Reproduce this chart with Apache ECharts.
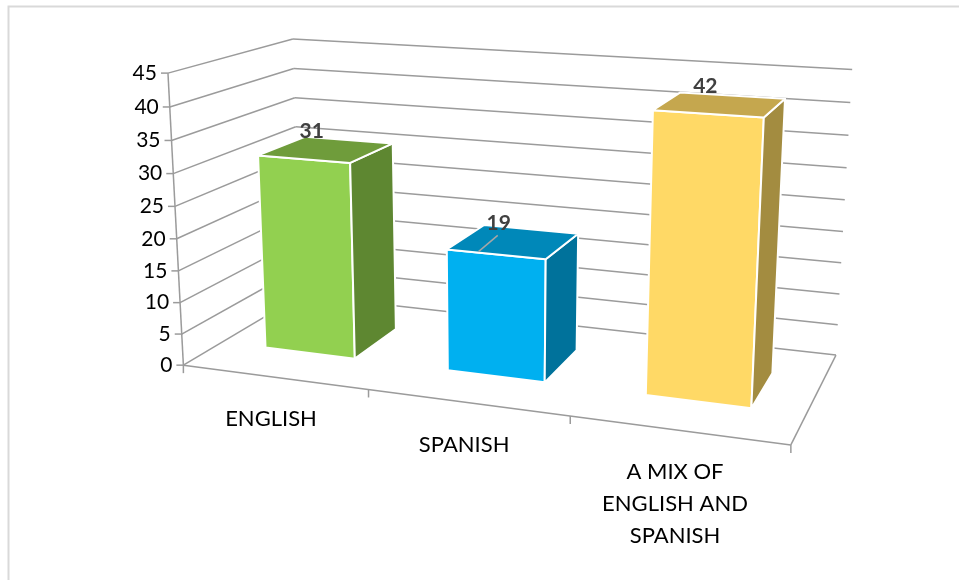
<!DOCTYPE html>
<html>
<head>
<meta charset="utf-8">
<script src="https://cdn.jsdelivr.net/npm/echarts@6.0.0/dist/echarts.min.js"></script>
<style>
  html, body { margin: 0; padding: 0; background: #ffffff; }
  #chart { width: 959px; height: 580px; }
</style>
</head>
<body>
<div id="chart"></div>
<script>
// ---- data ----
const categories = ['ENGLISH', 'SPANISH', 'A MIX OF\nENGLISH AND\nSPANISH'];
const values = [31, 19, 42];
const yTicks = [0, 5, 10, 15, 20, 25, 30, 35, 40, 45];

// ---- style ----
const FONT = 'Lato, "Open Sans", sans-serif';
const GRID_COLOR = '#9b9b9b';
const faceColors = [
  { front: '#92D050', side: '#5E8731', top: '#6F9C3B' },
  { front: '#00B0F0', side: '#00729B', top: '#0088B9' },
  { front: '#FFD966', side: '#A38C40', top: '#C5A74E' }
];
const BAR = { widthRatio: 0.5, zFront: 0.3, zBack: 0.7 };
const leaderLine = [false, true, false];

// Perspective box of the plot: unit cube (x = category span, y = value span,
// z = depth, 0 at the front) and where its corners sit on the canvas.
const boxAnchors = [
  [[0, 0, 0], [183, 364]],
  [[0, 1, 0], [168, 73]],
  [[0, 1, 1], [293, 39]],
  [[1, 1, 1], [852, 69]],
  [[1, 0, 1], [836, 355]],
  [[1, 0, 0], [791, 444]],
  [[1 / 3, 0, 0], [369, 390]],
  [[2 / 3, 0, 0], [570, 417]],
  [[0, 25 / 45, 0], [175, 207]],
  [[1, 20 / 45, 1], [843, 232]]
];

// Least-squares 3x4 projective camera (p34 = 1) from the anchors.
function buildProjection(anchors) {
  const N = 11, CX = 480, CY = 290, S = 300;
  const M = Array.from({ length: N }, () => new Array(N + 1).fill(0));
  const addRow = (row, rhs) => {
    for (let a = 0; a < N; a++) {
      for (let b = 0; b < N; b++) M[a][b] += row[a] * row[b];
      M[a][N] += row[a] * rhs;
    }
  };
  anchors.forEach(([[X, Y, Z], [px, py]]) => {
    const u = (px - CX) / S, v = (py - CY) / S;
    addRow([X, Y, Z, 1, 0, 0, 0, 0, -u * X, -u * Y, -u * Z], u);
    addRow([0, 0, 0, 0, X, Y, Z, 1, -v * X, -v * Y, -v * Z], v);
  });
  for (let c = 0; c < N; c++) {
    let p = c;
    for (let r = c + 1; r < N; r++) if (Math.abs(M[r][c]) > Math.abs(M[p][c])) p = r;
    const t = M[c]; M[c] = M[p]; M[p] = t;
    for (let r = 0; r < N; r++) {
      if (r === c) continue;
      const f = M[r][c] / M[c][c];
      for (let k = c; k <= N; k++) M[r][k] -= f * M[c][k];
    }
  }
  const q = M.map((row, i) => row[N] / row[i]);
  return (X, Y, Z) => {
    const w = q[8] * X + q[9] * Y + q[10] * Z + 1;
    return [
      CX + S * (q[0] * X + q[1] * Y + q[2] * Z + q[3]) / w,
      CY + S * (q[4] * X + q[5] * Y + q[6] * Z + q[7]) / w
    ];
  };
}
const project = buildProjection(boxAnchors);

// Normalise a point of the (hidden) cartesian grid into box space.
function toBox(cs, pt) {
  return [(pt[0] - cs.x) / cs.width, (cs.y + cs.height - pt[1]) / cs.height];
}

const line = (a, b, width, color) => ({
  type: 'line',
  shape: { x1: a[0], y1: a[1], x2: b[0], y2: b[1] },
  style: { stroke: color || GRID_COLOR, lineWidth: width || 1.5 },
  silent: true
});

// Walls: gridlines on the side and back wall, value ticks and labels.
function renderValueGrid(params, api) {
  const cs = params.coordSys;
  const v = api.value(1);
  const y = toBox(cs, api.coord([0, v]))[1];
  const front = project(0, y, 0), back = project(0, y, 1), right = project(1, y, 1);
  return {
    type: 'group',
    children: [
      line(front, back),
      line(back, right),
      line(front, [front[0] - 7, front[1]]),
      {
        type: 'text',
        style: {
          x: front[0] - 11, y: front[1],
          text: String(v), align: 'right', verticalAlign: 'middle',
          font: '21px ' + FONT, fill: '#000000'
        },
        silent: true
      }
    ]
  };
}

// Floor edges, the front vertical edge and category ticks/labels.
function renderCategoryAxis(params, api) {
  const cs = params.coordSys;
  const i = api.value(0);
  const xc = toBox(cs, api.coord([i, 0]))[0];
  const half = api.size([1, 0])[0] / cs.width / 2;
  const children = [];
  if (i === 0) {
    children.push(line(project(0, 0, 0), project(1, 0, 0)));
    children.push(line(project(1, 0, 0), project(1, 0, 1)));
    children.push(line(project(0, 0, 0), project(0, 1, 0)));
    const p0 = project(0, 0, 0);
    children.push(line(p0, [p0[0], p0[1] + 8]));
  }
  const pr = project(xc + half, 0, 0);
  children.push(line(pr, [pr[0], pr[1] + 8]));
  const pc = project(xc, 0, 0);
  children.push({
    type: 'text',
    style: {
      x: pc[0] - 3, y: pc[1] + 26,
      text: categories[i], align: 'center', verticalAlign: 'top',
      font: '22px ' + FONT, lineHeight: 32, fill: '#000000'
    },
    silent: true
  });
  return { type: 'group', children };
}

// 3-D columns: front, right side and top faces, plus the value label.
function renderBar(params, api) {
  const cs = params.coordSys;
  const i = api.value(0), v = api.value(1);
  const [xc, y1] = toBox(cs, api.coord([i, v]));
  const y0 = toBox(cs, api.coord([i, 0]))[1];
  const hw = api.size([1, 0])[0] / cs.width * BAR.widthRatio / 2;
  const x0 = xc - hw, x1 = xc + hw, z0 = BAR.zFront, z1 = BAR.zBack;
  const c = faceColors[i];
  const face = (pts, fill) => ({
    type: 'polygon',
    shape: { points: pts },
    style: { fill, stroke: '#ffffff', lineWidth: 2, lineJoin: 'round' }
  });
  const topC = project(xc, y1, (z0 + z1) / 2);
  const lx = topC[0] - 15, ly = topC[1] - 18;
  const children = [
    face([project(x0, y0, z0), project(x1, y0, z0), project(x1, y1, z0), project(x0, y1, z0)], c.front),
    face([project(x1, y0, z0), project(x1, y0, z1), project(x1, y1, z1), project(x1, y1, z0)], c.side),
    face([project(x0, y1, z0), project(x1, y1, z0), project(x1, y1, z1), project(x0, y1, z1)], c.top)
  ];
  if (leaderLine[i]) {
    const fm = project(xc - hw * 0.35, y1, z0);
    children.push(line([lx - 1, ly + 12], [fm[0], fm[1] - 1], 1.5, '#a6a6a6'));
  }
  children.push({
    type: 'text',
    style: {
      x: lx, y: ly, text: String(v), align: 'center', verticalAlign: 'middle',
      font: 'bold 21px ' + FONT, fill: '#404040'
    },
    silent: true
  });
  return { type: 'group', children };
}

const chart = echarts.init(document.getElementById('chart'), null, { renderer: 'canvas' });
chart.setOption({
  backgroundColor: '#ffffff',
  animation: false,
  graphic: [{
    type: 'rect',
    shape: { x: 8.5, y: 6.5, width: 1200, height: 1200 },
    style: { fill: 'none', stroke: '#d9d9d9', lineWidth: 2 },
    silent: true,
    z: -10
  }],
  grid: { left: 0, top: 0, width: 300, height: 300, show: false },
  xAxis: { type: 'category', data: categories, show: false },
  yAxis: { type: 'value', min: 0, max: 45, interval: 5, show: false },
  series: [
    {
      type: 'custom', name: 'valueGrid', z: 1,
      data: yTicks.map(t => [0, t]),
      renderItem: renderValueGrid, silent: true
    },
    {
      type: 'custom', name: 'categoryAxis', z: 1,
      data: categories.map((_, i) => [i, 0]),
      renderItem: renderCategoryAxis, silent: true
    },
    {
      type: 'custom', name: 'Responses', z: 2,
      data: values.map((v, i) => [i, v]),
      renderItem: renderBar
    }
  ]
});
</script>
</body>
</html>
